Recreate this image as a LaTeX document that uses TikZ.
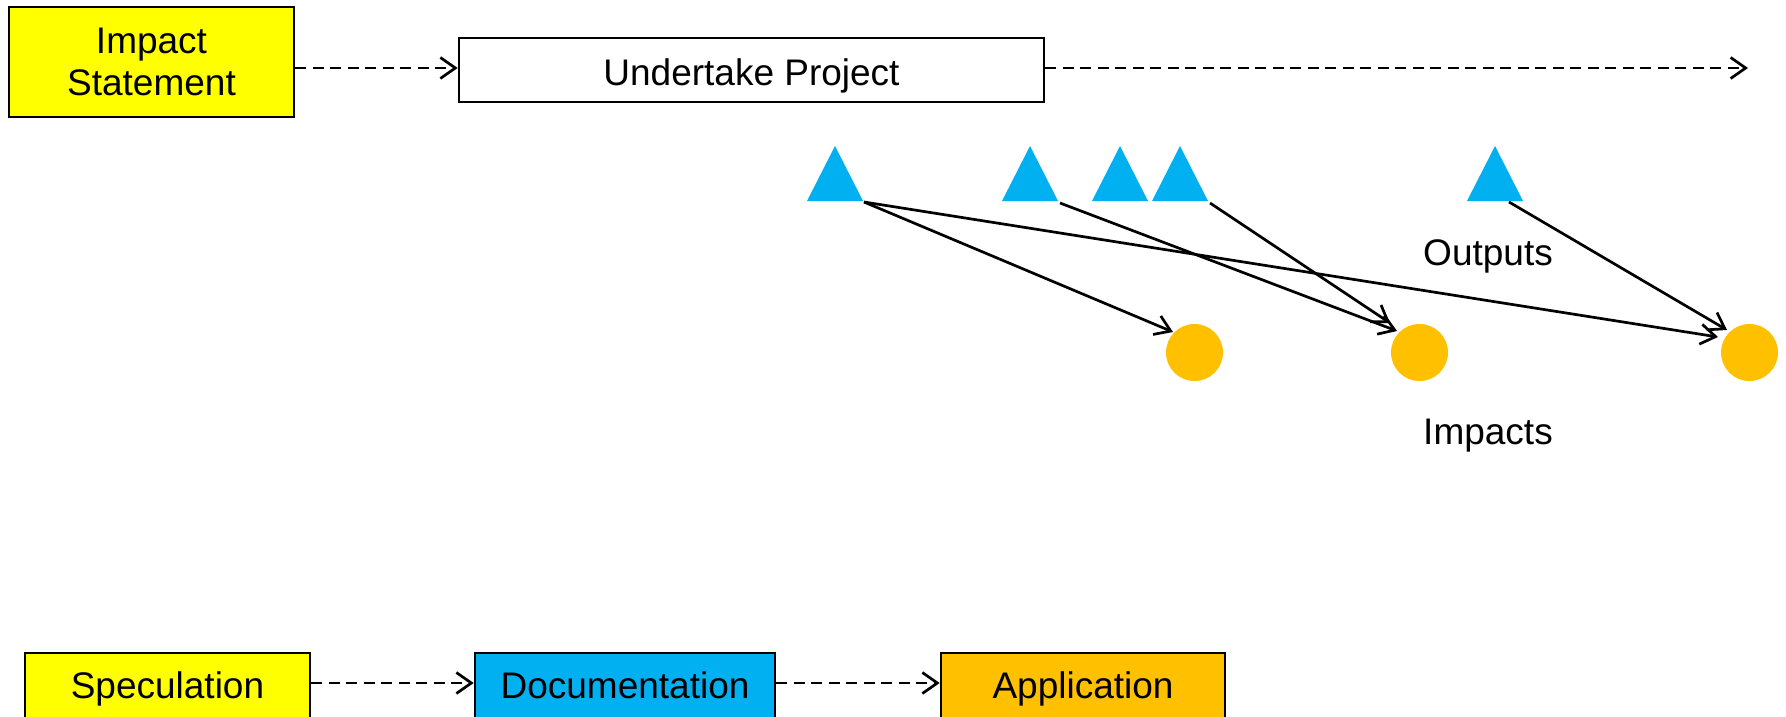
\documentclass[tikz,border=0pt]{standalone}
\usepackage{fontspec}
\setmainfont{Liberation Sans}
\usetikzlibrary{arrows.meta}
\definecolor{yel}{HTML}{FFFF00}
\definecolor{skyb}{HTML}{00B0F0}
\definecolor{amber}{HTML}{FFC000}
\begin{document}
\begin{tikzpicture}[x=1pt,y=-1pt,
  box/.style={draw=black, line width=2.6pt, inner sep=0pt, align=center, font=\fontsize{37}{42}\selectfont},
  onel/.style={text height=32pt, text depth=8pt},
  lbl/.style={font=\fontsize{37}{42}\selectfont, inner sep=0pt, anchor=base},
  dasharrow/.style={line width=2.7pt, dash pattern=on 11pt off 6.5pt, -{Straight Barb[length=15pt,width=21pt,line width=2.7pt]}},
  arr/.style={line width=2.7pt, -{Straight Barb[length=15pt,width=20pt,line width=2.7pt]}},
  tri/.style={fill=skyb},
  dot/.style={circle, fill=amber, minimum size=57pt, inner sep=0pt}]
\useasboundingbox (0,0) rectangle (1786,716);
\clip (0,0) rectangle (1786,716);

% top row
\node[box, fill=yel, minimum width=285pt, minimum height=110pt] (imp) at (151.5,62) {Impact\\Statement};
\node[box, fill=white, minimum width=585pt, minimum height=64pt, text height=38pt, text depth=8pt] (und) at (751.5,70) {Undertake Project};
\coordinate (row1) at (0,68);
\coordinate (end1) at (1748,68);
\draw[dasharrow] (imp.east |- row1) -- (und.west |- row1);
\draw[dasharrow] (und.east |- row1) -- (end1);

% outputs (triangles)
\fill[tri] (807,201) -- (835,146) -- (863,201) -- cycle;
\fill[tri] (1002,201) -- (1030,146) -- (1058,201) -- cycle;
\fill[tri] (1092,201) -- (1120,146) -- (1148,201) -- cycle;
\fill[tri] (1152,201) -- (1180,146) -- (1208,201) -- cycle;
\fill[tri] (1467,201) -- (1495,146) -- (1523,201) -- cycle;
\coordinate (t1) at (864,202);
\coordinate (t2) at (1060,203);
\coordinate (t4) at (1210,203);
\coordinate (t5) at (1509,202);

% impacts (circles)
\node[dot] (c1) at (1194.5,352.5) {};
\node[dot] (c2) at (1419.5,352.5) {};
\node[dot] (c3) at (1749.5,352.5) {};
\coordinate (c1a) at (1173,332);
\coordinate (c2a) at (1397,331);
\coordinate (c2b) at (1390,323);
\coordinate (c3a) at (1718,337);
\coordinate (c3b) at (1727,330);

\draw[arr] (t1) -- (c1a);
\draw[arr] (t1) -- (c3a);
\draw[arr] (t2) -- (c2a);
\draw[arr] (t4) -- (c2b);
\draw[arr] (t5) -- (c3b);

\node[lbl] (outl) at (1488,265) {Outputs};
\node[lbl] (impl) at (1488,444) {Impacts};

% bottom row
\node[box, onel, fill=yel, minimum width=285pt, minimum height=66pt] (spec) at (167.5,686) {Speculation};
\node[box, onel, fill=skyb, minimum width=300pt, minimum height=66pt] (doc) at (625,686) {Documentation};
\node[box, onel, fill=amber, minimum width=284pt, minimum height=66pt] (app) at (1083,686) {Application};
\coordinate (row2) at (0,683);
\draw[dasharrow] (spec.east |- row2) -- (doc.west |- row2);
\draw[dasharrow] (doc.east |- row2) -- (app.west |- row2);
\end{tikzpicture}
\end{document}
